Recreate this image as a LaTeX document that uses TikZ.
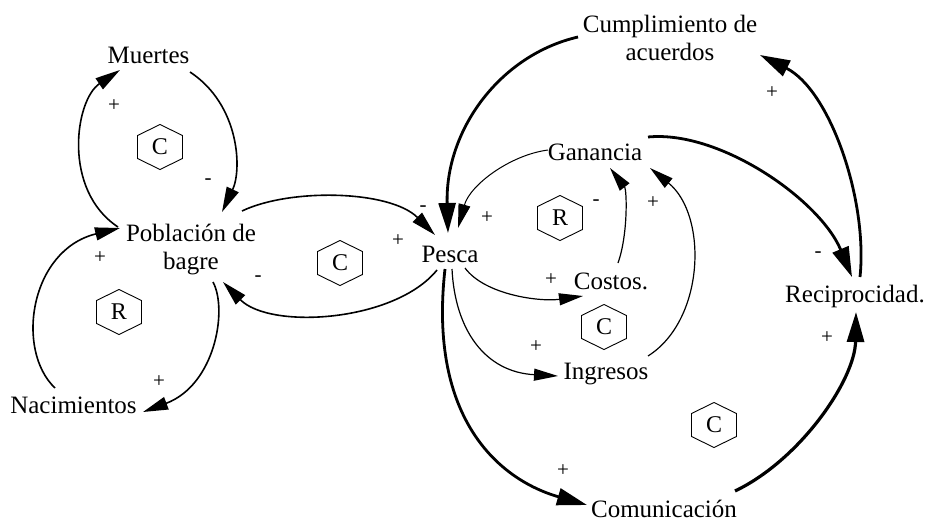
\documentclass[tikz,border=0pt]{standalone}
\usepackage{fontspec}
\setmainfont{Liberation Serif}
\newfontfamily\tnr{Liberation Serif}
\usetikzlibrary{arrows.meta,calc}
\tikzset{
  var/.style={font=\tnr\fontsize{25}{28}\selectfont, inner sep=0pt, text height=17pt, text depth=5pt},
  vartwo/.style={font=\tnr\fontsize{25}{28}\selectfont, inner sep=0pt, align=center},
  loopmark/.style={font=\tnr\fontsize{24}{26}\selectfont, inner sep=0pt},
  hexline/.style={line width=0.9pt},
  sgn/.style={font=\tnr\fontsize{21}{22}\selectfont, inner sep=0pt},
  thinlink/.style={line width=1.2pt, -{Triangle[length=24pt,width=12pt]}},
  midlink/.style={line width=1.6pt, -{Triangle[length=25pt,width=13pt]}},
  thicklink/.style={line width=2.8pt, -{Triangle[length=30pt,width=17pt]}},
}
\begin{document}
\begin{tikzpicture}[x=1pt,y=-1pt]
\useasboundingbox (0,0) rectangle (926,522);
\fill[white] (0,0) rectangle (926,522);

% variables
\node[var] (mue) at (148.5,57) {Muertes};
\node[vartwo] (pob) at (191,250) {Población de\\bagre};
\node[var] (nac) at (73.5,407) {Nacimientos};
\node[var] (pes) at (450,256) {Pesca};
\node[vartwo] (cum) at (670,37.5) {Cumplimiento de\\acuerdos};
\node[var] (gan) at (595,154) {Ganancia};
\node[var] (cos) at (611,283) {Costos.};
\node[var] (ing) at (606,373) {Ingresos};
\node[var] (rec) at (855,296) {Reciprocidad.};
\node[var] (com) at (664,511) {Comunicación};

% loop markers
\node[loopmark] (h1) at (160,147) {C};
\node[loopmark] (h2) at (340,263) {C};
\node[loopmark] (h3) at (119,312) {R};
\node[loopmark] (h4) at (560,218) {R};
\node[loopmark] (h5) at (604,327) {C};
\node[loopmark] (h6) at (714,425) {C};
\foreach \h in {h1,h2,h3,h4,h5,h6}{
  \draw[hexline] ($(\h)+(0,-22.5)$) -- ($(\h)+(22.5,-11.5)$) -- ($(\h)+(22.5,11.5)$)
     -- ($(\h)+(0,22.5)$) -- ($(\h)+(-22.5,11.5)$) -- ($(\h)+(-22.5,-11.5)$) -- cycle;
}

% left loops
\draw[midlink] ($(pob)+(-73,-23)$) .. controls (62,190) and (75,100) .. ($(mue)+(-28.5,13)$);
\draw[midlink] ($(mue)+(41.5,15)$) .. controls (240,105) and (242,170) .. ($(pob)+(31,-38)$);
\draw[midlink] ($(pob)+(22,32)$) .. controls (228,310) and (215,385) .. ($(nac)+(69.5,5)$);
\draw[midlink] ($(nac)+(-18.5,-19)$) .. controls (15,350) and (30,250) .. ($(pob)+(-71,-22)$);

% poblacion - pesca
\draw[midlink] ($(pob)+(51,-39)$) .. controls (290,188) and (390,190) .. ($(pes)+(-15,-21)$);
\draw[midlink] ($(pes)+(-13,14)$) .. controls (395,322) and (270,330) .. ($(pob)+(32,32)$);

% pesca cluster
\draw[thicklink] ($(cum)+(-92,-0.5)$) .. controls (500,55) and (445,130) .. ($(pes)+(-2,-23)$);
\draw[thinlink, line width=1pt] ($(gan)+(-47,-4)$) .. controls (510,155) and (470,185) .. ($(pes)+(8,-28)$);
\draw[thinlink] ($(pes)+(15,12)$) .. controls (485,295) and (540,302) .. ($(cos)+(-28,13)$);
\draw[thinlink] ($(cos)+(7,-20)$) .. controls (628,235) and (627,190) .. ($(gan)+(15,14)$);
\draw[thinlink] ($(pes)+(2,13)$) .. controls (455,330) and (485,372) .. ($(ing)+(-48,3)$);
\draw[thinlink] ($(ing)+(42,-17)$) .. controls (705,320) and (708,215) .. ($(gan)+(55,14)$);
\draw[thicklink] ($(pes)+(-5,13)$) .. controls (428,420) and (500,480) .. ($(com)+(-77,-6)$);
\draw[thicklink, line width=3.2pt] ($(com)+(71,-20)$) .. controls (800,460) and (855,380) .. ($(rec)+(1,16)$);
\draw[thicklink] ($(gan)+(53,-17)$) .. controls (720,130) and (820,200) .. ($(rec)+(-3,-19)$);
\draw[thicklink] ($(rec)+(5,-19)$) .. controls (868,200) and (830,90) .. ($(cum)+(90,17.5)$);

% signs
\node[sgn] (s1) at (114,106) {+};
\node[sgn] (s2) at (208,182) {-};
\node[sgn] (s3) at (100,258) {+};
\node[sgn] (s4) at (159,382) {+};
\node[sgn] (s5) at (258,279) {-};
\node[sgn] (s6) at (423,209) {-};
\node[sgn] (s7) at (398,241) {+};
\node[sgn] (s8) at (487,218) {+};
\node[sgn] (s9) at (596,203) {-};
\node[sgn] (s10) at (653,203) {+};
\node[sgn] (s11) at (551,280) {+};
\node[sgn] (s12) at (536,347) {+};
\node[sgn] (s13) at (563,471) {+};
\node[sgn] (s14) at (772,93) {+};
\node[sgn] (s15) at (818,255) {-};
\node[sgn] (s16) at (827,338) {+};
\end{tikzpicture}
\end{document}
